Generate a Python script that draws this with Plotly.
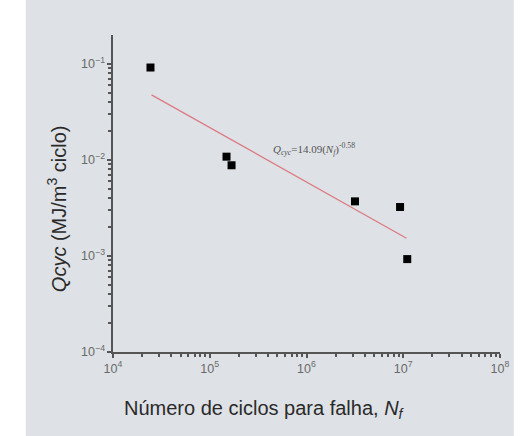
import plotly.graph_objects as go

# Data
cycles_to_failure = [2.44e4, 1.49e5, 1.68e5, 3.17e6, 9.27e6, 1.10e7]
qcyc_values = [0.0915, 0.0108, 0.00879, 0.00370, 0.00323, 0.000927]
fit_x = [2.50e4, 1.08e7]
fit_y = [0.0475, 0.00153]

x_range_log = [4, 8]
y_range_log = [-4, -0.7]

equation_text = "<i>Q<sub>cyc</sub></i>=14.09(<i>N<sub>f</sub></i>)<sup>-0.58</sup>"
x_title = "Número de ciclos para falha, <i>N<sub>f</sub></i>"
y_title = "<i>Qcyc</i> (MJ/m<sup>3</sup> ciclo)"

fig = go.Figure()
fig.add_trace(go.Scatter(
    x=fit_x, y=fit_y, mode="lines",
    line=dict(color="#dc7b83", width=1.3), showlegend=False, hoverinfo="skip"))
fig.add_trace(go.Scatter(
    x=cycles_to_failure, y=qcyc_values, mode="markers",
    marker=dict(symbol="square", size=8, color="#000000"), showlegend=False))

axis_common = dict(
    type="log", dtick=1, exponentformat="power", showgrid=False, zeroline=False,
    showline=True, linecolor="#555555", linewidth=2,
    ticks="outside", ticklen=4, tickwidth=1.5, tickcolor="#555555",
    tickfont=dict(family="Liberation Sans, Arial", size=10, color="#6a6a6a"),
    minor=dict(ticks="outside", ticklen=3, tickwidth=1.5, tickcolor="#555555",
               dtick="D1", showgrid=False),
)

fig.update_xaxes(range=x_range_log, **axis_common)
fig.update_yaxes(range=y_range_log, **axis_common)

fig.update_layout(
    width=522, height=436,
    margin=dict(l=113, r=14, t=35, b=84, pad=0),
    paper_bgcolor="#ffffff", plot_bgcolor="rgba(0,0,0,0)",
    shapes=[dict(type="rect", xref="paper", yref="paper",
                 x0=(24 - 113) / (522 - 113 - 14), x1=(522 - 113) / (522 - 113 - 14),
                 y0=-84 / (436 - 35 - 84), y1=(436 - 35 - 6) / (436 - 35 - 84),
                 fillcolor="#dee1e5", line=dict(width=0), layer="below")],
    annotations=[
        dict(x=5.63, y=-1.886, xref="x", yref="y", text=equation_text,
             showarrow=False, xanchor="left", yanchor="middle",
             font=dict(family="Liberation Serif, Times New Roman", size=11, color="#555555")),
        dict(x=(268 - 113) / (522 - 113 - 14), y=(436 - 84 - 409) / (436 - 35 - 84),
             xref="paper", yref="paper", text=x_title, showarrow=False,
             xanchor="center", yanchor="middle",
             font=dict(family="Liberation Sans, Arial", size=20, color="#2a2a2a")),
        dict(x=(56 - 113) / (522 - 113 - 14), y=(436 - 84 - 209) / (436 - 35 - 84),
             xref="paper", yref="paper", text=y_title, showarrow=False, textangle=-90,
             xanchor="center", yanchor="middle",
             font=dict(family="Liberation Sans, Arial", size=20, color="#2a2a2a")),
    ],
)

fig.write_html("out.html")
